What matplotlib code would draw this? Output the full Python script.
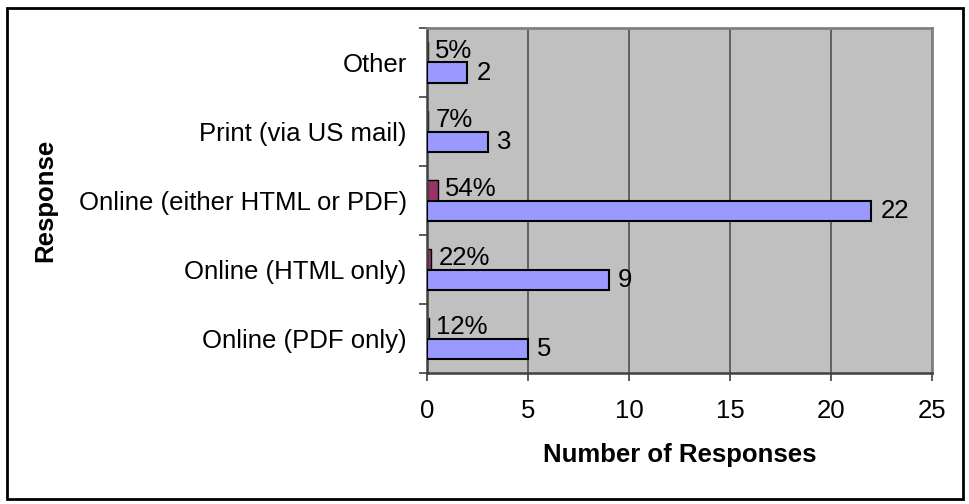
import matplotlib
matplotlib.use("Agg")
import matplotlib.pyplot as plt
from matplotlib.patches import Rectangle
import numpy as np

categories = ["Online (PDF only)", "Online (HTML only)", "Online (either HTML or PDF)",
              "Print (via US mail)", "Other"]
counts = [5, 9, 22, 3, 2]
percents = [0.12, 0.22, 0.54, 0.07, 0.05]
pct_labels = ["12%", "22%", "54%", "7%", "5%"]
xticks = [0, 5, 10, 15, 20, 25]

W, H = 969, 504
DPI = 100
plt.rcParams['font.family'] = ['Liberation Sans', 'DejaVu Sans']
FS = 18.5

fig = plt.figure(figsize=(W / DPI, H / DPI), dpi=DPI)
L, R, T, B = 427, 932, 28, 373
ax = fig.add_axes([L / W, 1 - B / H, (R - L) / W, (B - T) / H])
ax.set_facecolor('#C0C0C0')

y = np.arange(len(categories))
bh = 0.29
ax.barh(y - bh / 2, counts, height=bh, color='#9999FF', edgecolor='black', linewidth=1.5, zorder=3)
ax.barh(y + bh / 2, percents, height=bh, color='#993366', edgecolor='black', linewidth=1.0, zorder=2.2)

for yi, c in zip(y, counts):
    ax.annotate(str(c), (c, yi - bh / 2), xytext=(6.5, 0), textcoords='offset points',
                ha='left', va='center', fontsize=FS, zorder=4)
for yi, p, lab in zip(y, percents, pct_labels):
    ax.annotate(lab, (p, yi + bh / 2 + 0.02), xytext=(5, 0), textcoords='offset points',
                ha='left', va='center', fontsize=FS, zorder=4)

ax.set_xlim(0, 25)
ax.set_ylim(-0.5, len(categories) - 0.5)
ax.set_xticks(xticks)
ax.set_xticklabels([str(t) for t in xticks], fontsize=FS)
ax.set_yticks(y)
ax.set_yticklabels(categories, fontsize=FS)
ax.set_yticks(np.arange(-0.5, len(categories)), minor=True)
ax.tick_params(axis='y', which='major', length=0, pad=14.5)
ax.tick_params(axis='y', which='minor', length=6, width=1.2, color='#404040', direction='out')
ax.tick_params(axis='x', which='major', length=6, width=1.2, color='#404040', direction='out', pad=13)

ax.grid(axis='x', color='#505050', linewidth=1.2, zorder=1)
ax.set_axisbelow(True)
for s in ['top', 'right']:
    ax.spines[s].set_color('#808080')
    ax.spines[s].set_linewidth(2)
for s in ['left', 'bottom']:
    ax.spines[s].set_color('#404040')
    ax.spines[s].set_linewidth(1.8)
    ax.spines[s].set_zorder(2.5)

ax.set_xlabel("Number of Responses", fontsize=FS, fontweight='bold', labelpad=14)
fig.text(45 / W, 1 - 200 / H, "Response", rotation=90, ha='center', va='center',
         fontsize=FS, fontweight='bold')

fig.patches.append(Rectangle((7 / W, 1 - 499 / H), (963 - 7) / W, (499 - 8) / H,
                             transform=fig.transFigure, fill=False, edgecolor='black',
                             linewidth=2, zorder=10))

fig.savefig("out.png", dpi=DPI)
